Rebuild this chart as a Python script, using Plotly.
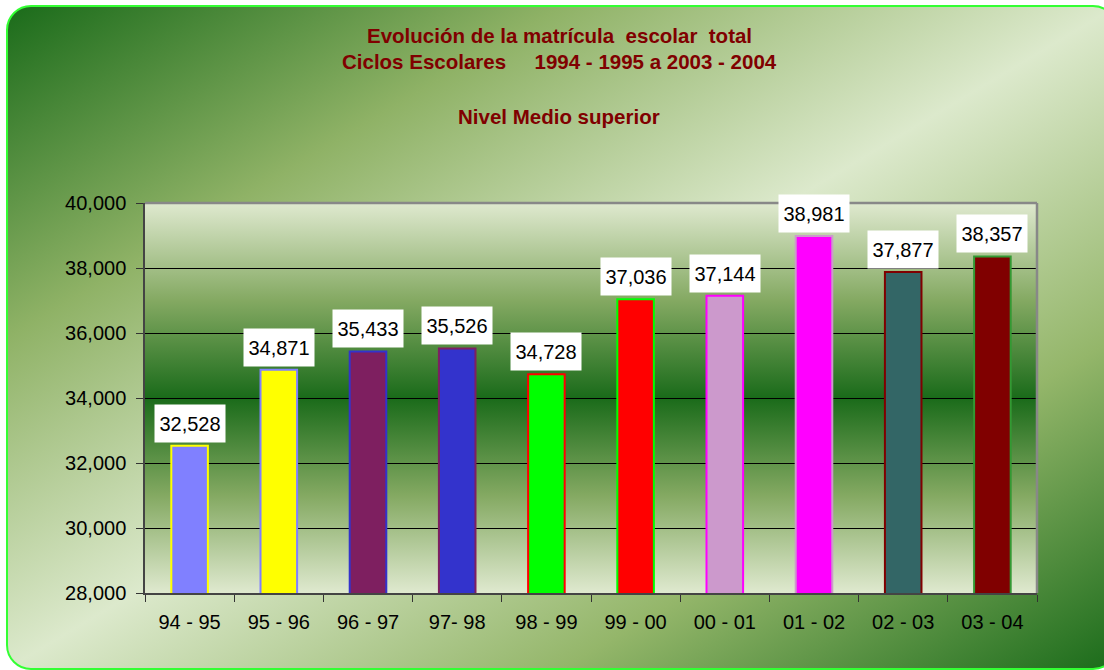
import base64
import plotly.graph_objects as go

# School years and total enrollment (upper-middle level)
ciclos = ["94 - 95", "95 - 96", "96 - 97", "97- 98", "98 - 99",
          "99 - 00", "00 - 01", "01 - 02", "02 - 03", "03 - 04"]
matricula = [32528, 34871, 35433, 35526, 34728, 37036, 37144, 38981, 37877, 38357]

# Fill and outline colour for each bar
relleno = ["#8080ff", "#ffff00", "#7e1f60", "#3333cc", "#00ff00",
           "#ff0000", "#cc99cc", "#ff00ff", "#336666", "#800000"]
contorno = ["#ffff00", "#8080ff", "#3333cc", "#7e1f60", "#ff0000",
            "#00ff00", "#ff00ff", "#cc99cc", "#800000", "#339933"]

y_ticks = [28000, 30000, 32000, 34000, 36000, 38000, 40000]

W, H = 1104, 670
L, R, T, B = 145, 1037, 203, 593          # plot area in pixels
PW, PH = R - L, B - T


def px_x(px):
    return (px - L) / PW


def px_y(py):
    return (B - py) / PH


def svg_uri(svg):
    return "data:image/svg+xml;base64," + base64.b64encode(svg.encode()).decode()


# Rounded frame with a diagonal green gradient
marco_svg = f"""<svg xmlns="http://www.w3.org/2000/svg" width="{W}" height="{H}" viewBox="0 0 {W} {H}">
<defs><linearGradient id="g" x1="0" y1="0" x2="1" y2="1">
<stop offset="0" stop-color="#1a6b1a"/>
<stop offset="0.25" stop-color="#8fb266"/>
<stop offset="0.5" stop-color="#dce9cc"/>
<stop offset="0.75" stop-color="#94b66a"/>
<stop offset="1" stop-color="#1a6b1a"/>
</linearGradient></defs>
<rect x="7" y="6" width="1110" height="663" rx="24" ry="24" fill="url(#g)" stroke="#33ff33" stroke-width="2"/>
</svg>"""

# Plot-area fill: light at top and bottom, dark green in the middle
fondo_svg = f"""<svg xmlns="http://www.w3.org/2000/svg" width="{PW}" height="{PH}" viewBox="0 0 {PW} {PH}" preserveAspectRatio="none">
<defs><linearGradient id="p" x1="0" y1="0" x2="0" y2="1">
<stop offset="0" stop-color="#dfe9cf"/>
<stop offset="0.25" stop-color="#84a962"/>
<stop offset="0.5" stop-color="#1a6b1a"/>
<stop offset="0.75" stop-color="#84a962"/>
<stop offset="1" stop-color="#dfe9cf"/>
</linearGradient></defs>
<rect x="0" y="0" width="{PW}" height="{PH}" fill="url(#p)"/>
</svg>"""

FONT = "Arial, Liberation Sans, sans-serif"

fig = go.Figure(
    go.Bar(
        x=ciclos,
        y=matricula,
        width=0.41,
        marker=dict(color=relleno, line=dict(color=contorno, width=2)),
        hoverinfo="x+y",
    )
)

annotations = []
for c, v in zip(ciclos, matricula):
    annotations.append(dict(
        x=c, y=v, xref="x", yref="y", text=f"{v:,}", showarrow=False,
        yanchor="bottom", yshift=3, width=70, height=37, bgcolor="white",
        borderpad=0, font=dict(family=FONT, size=20, color="black"),
    ))

title_lines = [
    ("Evolución de la matrícula\u00a0 escolar\u00a0 total", 35),
    ("Ciclos Escolares\u00a0\u00a0\u00a0\u00a0 1994 - 1995 a 2003 - 2004", 62),
    ("Nivel Medio superior", 117),
]
for txt, py in title_lines:
    annotations.append(dict(
        x=px_x(559), y=px_y(py), xref="paper", yref="paper", text=f"<b>{txt}</b>",
        showarrow=False, xanchor="center", yanchor="middle",
        font=dict(family=FONT, size=20.5, color="#800000"),
    ))

fig.update_layout(
    width=W, height=H,
    margin=dict(l=L, r=W - R, t=T, b=H - B, pad=0),
    paper_bgcolor="white",
    plot_bgcolor="rgba(0,0,0,0)",
    showlegend=False,
    annotations=annotations,
    images=[
        dict(source=svg_uri(marco_svg), xref="paper", yref="paper",
             x=px_x(0), y=px_y(0), sizex=W / PW, sizey=H / PH,
             xanchor="left", yanchor="top", sizing="stretch", layer="below"),
        dict(source=svg_uri(fondo_svg), xref="paper", yref="paper",
             x=0, y=1, sizex=1, sizey=1,
             xanchor="left", yanchor="top", sizing="stretch", layer="below"),
    ],
    shapes=[
        dict(type="line", xref="paper", yref="paper", x0=0, x1=1, y0=1, y1=1,
             line=dict(color="#888888", width=2.5)),
        dict(type="line", xref="paper", yref="paper", x0=1, x1=1, y0=0, y1=1,
             line=dict(color="#888888", width=2.5)),
    ],
    xaxis=dict(
        type="category", tickson="boundaries", ticks="outside", ticklen=7,
        tickcolor="#333333", tickwidth=1, showline=True, linecolor="#444444",
        linewidth=1.5, showgrid=False, ticklabelstandoff=10,
        tickfont=dict(family=FONT, size=20, color="black"),
    ),
    yaxis=dict(
        range=[28000, 40000], tickvals=y_ticks, tickformat=",d", ticks="outside",
        ticklen=7, tickcolor="#333333", tickwidth=1, showline=True, linecolor="#444444",
        linewidth=1.5, showgrid=True, gridcolor="black", gridwidth=1, zeroline=False,
        ticklabelstandoff=6, tickfont=dict(family=FONT, size=20, color="black"),
    ),
)

fig.write_html("out.html")
